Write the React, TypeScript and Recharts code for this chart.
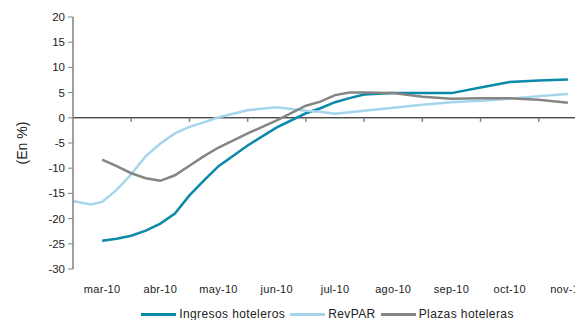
import React from 'react';
import { LineChart, Line, XAxis, YAxis, ReferenceLine, Legend } from 'recharts';

const months = ['mar-10', 'abr-10', 'may-10', 'jun-10', 'jul-10', 'ago-10', 'sep-10', 'oct-10', 'nov-10'];
const yTicks = [-30, -25, -20, -15, -10, -5, 0, 5, 10, 15, 20];

// position along the time axis, in months from the start of mar-10
const positions = [0, 0.3, 0.5, 0.75, 1, 1.25, 1.5, 1.75, 2, 2.25, 2.5, 3, 3.5, 4, 4.25, 4.5, 4.75, 5, 5.5, 6, 6.5, 7, 7.5, 8, 8.5];
const ingresos = [null, null, -24.4, -24.0, -23.4, -22.4, -21.0, -19.0, -15.4, -12.4, -9.6, -5.5, -1.9, 0.9, 1.9, 3.1, 3.9, 4.6, 4.9, 4.9, 4.9, 6.0, 7.1, 7.4, 7.6];
const revpar = [-16.5, -17.2, -16.7, -14.3, -11.2, -7.6, -5.1, -3.1, -1.8, -0.9, 0.1, 1.5, 2.1, 1.4, 1.2, 0.8, 1.1, 1.4, 2.0, 2.6, 3.1, 3.4, 3.8, 4.3, 4.7];
const plazas = [null, null, -8.3, -9.6, -11.0, -12.0, -12.5, -11.4, -9.5, -7.6, -5.9, -3.1, -0.5, 2.4, 3.2, 4.5, 5.0, 5.0, 4.9, 4.2, 3.8, 3.9, 3.9, 3.6, 3.0];

const seriesInfo = [
  { key: 'ingresos', name: 'Ingresos hoteleros', color: '#0A89A9' },
  { key: 'revpar', name: 'RevPAR', color: '#A5D5EC' },
  { key: 'plazas', name: 'Plazas hoteleras', color: '#858585' },
];

const data = positions.map((p, i) => ({
  pos: p,
  ingresos: ingresos[i],
  revpar: revpar[i],
  plazas: plazas[i],
}));

const labelTicks = months.map((_, i) => i + 0.5);
const boundaries = months.map((_, i) => i + 1);

const FONT = '"Liberation Sans", Arial, sans-serif';

const LegendContent = () => (
  <div
    style={{
      display: 'flex',
      justifyContent: 'center',
      alignItems: 'center',
      height: 12,
      paddingLeft: 55,
      fontFamily: FONT,
      fontSize: 12,
      letterSpacing: 0.4,
      color: '#222',
      lineHeight: '12px',
    }}
  >
    {seriesInfo.map((s) => (
      <div key={s.key} style={{ display: 'flex', alignItems: 'center', marginRight: 5 }}>
        <div style={{ width: 35, height: 3, background: s.color, marginRight: 3 }} />
        <span style={{ whiteSpace: 'nowrap' }}>{s.name}</span>
      </div>
    ))}
  </div>
);

const YLabel = (props: any) => {
  const vb = props.viewBox || {};
  const x = vb.x + 14;
  const y = vb.y + vb.height / 2;
  return (
    <text
      x={x}
      y={y}
      transform={`rotate(-90, ${x}, ${y})`}
      textAnchor="middle"
      dominantBaseline="central"
      fontFamily={FONT}
      fontSize={14}
      fill="#222"
    >
      (En %)
    </text>
  );
};

export default function App() {
  return (
    <div style={{ width: 575, height: 312, overflow: 'hidden' }}>
      <LineChart width={600} height={312} data={data} margin={{ top: 9, right: 11, bottom: 0, left: 0 }}>
        <XAxis
          dataKey="pos"
          type="number"
          domain={[0, months.length]}
          ticks={labelTicks}
          tickFormatter={(v: number) => months[Math.floor(v)]}
          axisLine={false}
          tickLine={false}
          tickSize={6}
          tickMargin={10}
          height={39}
          interval={0}
          allowDataOverflow
          tick={{ fontFamily: FONT, fontSize: 11, fill: '#222', letterSpacing: 0.3 }}
        />
        <YAxis
          type="number"
          domain={[-30, 20]}
          ticks={yTicks}
          interval={0}
          width={65}
          axisLine={{ stroke: '#808080', strokeWidth: 1.5 }}
          tickLine={{ stroke: '#808080' }}
          tickSize={5}
          tickMargin={3}
          tick={{ fontFamily: FONT, fontSize: 11.5, fill: '#222' }}
          label={<YLabel />}
        />
        <ReferenceLine y={0} stroke="#000" strokeWidth={1} />
        {boundaries.map((b) => (
          <ReferenceLine
            key={b}
            segment={[{ x: b, y: 0 }, { x: b, y: -0.8 }]}
            stroke="#808080"
            strokeWidth={1.5}
            ifOverflow="visible"
          />
        ))}
        {seriesInfo.map((s) => (
          <Line
            key={s.key}
            dataKey={s.key}
            name={s.name}
            type="linear"
            stroke={s.color}
            strokeWidth={2.5}
            dot={false}
            connectNulls
            isAnimationActive={false}
          />
        ))}
        <Legend verticalAlign="bottom" align="center" height={12} content={<LegendContent />} />
      </LineChart>
    </div>
  );
}
